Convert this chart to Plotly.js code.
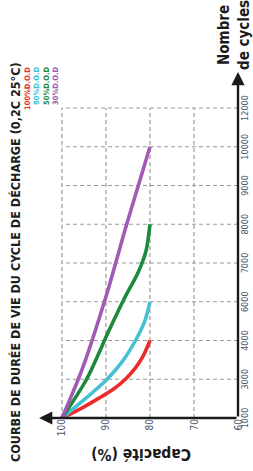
<!DOCTYPE html>
<html>
<head>
<meta charset="utf-8">
<script src="https://cdn.plot.ly/plotly-3.0.1.min.js"></script>
<style>
  html, body { margin: 0; padding: 0; background: #fff; overflow: hidden; width: 253px; height: 471px; }
  #wrap { position: absolute; left: 0; top: 0; width: 471px; height: 253px;
          transform-origin: 0 0; transform: translate(0px, 471px) rotate(-90deg); }
</style>
</head>
<body>
<div id="wrap"><div id="chart" style="width:471px;height:253px;"></div></div>
<script>
// ---- data ----
const chartTitle = 'COURBE DE DURÉE DE VIE DU CYCLE DE DÉCHARGE (0,2C 25°C)';
const cycleTicks = [1000, 3000, 4000, 6000, 7000, 8000, 9000, 10000, 12000];
const capacityTicks = [100, 90, 80, 70, 60];
const seriesNames = ['100%D.O.D', '80%D.O.D', '50%D.O.D', '30%D.O.D'];
const seriesColors = ['#ee2b2b', '#45c1d3', '#1b8a3c', '#a05bb5'];

const dod100Cycles = [1000, 1537, 2024, 2512, 3000, 3294, 3588, 4000];
const dod100Cap    = [100, 95.3, 91.6, 88.2, 85.6, 83.3, 81.6, 80];
const dod80Cycles  = [1000, 1878, 2950, 3441, 4000, 5053, 6000];
const dod80Cap     = [100, 95.3, 90, 86.4, 83.3, 81.1, 80];
const dod50Cycles  = [1000, 3000, 4526, 6135, 6757, 7314, 8000];
const dod50Cap     = [100, 94.4, 89.3, 85.6, 82.7, 80.9, 80];
const dod30Cycles  = [1000, 3294, 6135, 8000, 10000];
const dod30Cap     = [100, 95.3, 90, 85.3, 80];

// The cycle axis of the reference has evenly spaced, unevenly valued labels:
// map a cycle count onto that piecewise scale.
function cyclePos(c) {
  for (let i = 0; i < cycleTicks.length - 1; i++) {
    if (c <= cycleTicks[i + 1]) return i + (c - cycleTicks[i]) / (cycleTicks[i + 1] - cycleTicks[i]);
  }
  return cycleTicks.length - 1;
}

const allCycles = [dod100Cycles, dod80Cycles, dod50Cycles, dod30Cycles];
const allCap = [dod100Cap, dod80Cap, dod50Cap, dod30Cap];

const traces = allCycles.map((cyc, k) => ({
  type: 'scatter', mode: 'lines', name: seriesNames[k],
  x: cyc.map(cyclePos), y: allCap[k],
  line: { color: seriesColors[k], width: 3.6, shape: 'spline', smoothing: 0.8 },
  hoverinfo: 'skip'
}));

const narrow = '"Liberation Sans Narrow", "DejaVu Sans Condensed", "Arial Narrow", sans-serif';
const tickColor = '#48536e';
const lastIdx = cycleTicks.length - 1;
const xMax = 8.955, yMin = 60, yMax = 105.45;

const shapes = [];
cycleTicks.forEach((t, i) => {
  if (i === 0) return;
  shapes.push({ type: 'line', xref: 'x', yref: 'y', x0: i, x1: i, y0: capacityTicks[capacityTicks.length - 1], y1: capacityTicks[0],
    line: { color: '#9a9a9a', width: 1.2, dash: '4px,3px' }, layer: 'below' });
});
capacityTicks.forEach((c, j) => {
  if (j === capacityTicks.length - 1) return;
  shapes.push({ type: 'line', xref: 'x', yref: 'y', x0: 0, x1: lastIdx, y0: c, y1: c,
    line: { color: '#9a9a9a', width: 1.2, dash: '4px,3px' }, layer: 'below' });
});

const annotations = [
  // axis arrows
  { xref: 'x', yref: 'y', axref: 'x', ayref: 'y', x: 8.93, y: yMin, ax: 0, ay: yMin, text: '',
    showarrow: true, arrowhead: 2, arrowsize: 1.1, arrowwidth: 2.4, arrowcolor: '#1a1a1a' },
  { xref: 'x', yref: 'y', axref: 'x', ayref: 'y', x: 0, y: 105.2, ax: 0, ay: yMin, text: '',
    showarrow: true, arrowhead: 2, arrowsize: 1.1, arrowwidth: 2.4, arrowcolor: '#1a1a1a' },
  // axis titles
  { xref: 'paper', yref: 'paper', x: (17 - 53) / 347, y: (238 - 141) / 200, text: 'Capacité (%)',
    textangle: -90, showarrow: false, xanchor: 'center', yanchor: 'middle',
    font: { family: narrow, size: 15.5, color: '#1a1a1a', weight: 'bold' } },
  { xref: 'paper', yref: 'paper', x: (436 - 53) / 347, y: (238 - 234) / 200, text: 'Nombre<br>de cycles',
    showarrow: false, xanchor: 'center', yanchor: 'middle', align: 'center',
    font: { family: narrow, size: 15, color: '#1a1a1a', weight: 'bold' } }
];
// colour-coded legend text
const legendV = [27, 36, 46, 56];
seriesNames.forEach((n, k) => {
  annotations.push({ xref: 'paper', yref: 'paper', x: (406 - 53) / 347, y: (238 - legendV[k]) / 200,
    text: n, showarrow: false, xanchor: 'right', yanchor: 'middle',
    font: { family: narrow, size: 7.5, color: seriesColors[k], weight: 'bold' } });
});

const layout = {
  width: 471, height: 253,
  margin: { l: 53, r: 71, t: 38, b: 15 },
  paper_bgcolor: '#ffffff', plot_bgcolor: '#ffffff',
  showlegend: false,
  title: { text: chartTitle, xref: 'container', yref: 'container', x: 9 / 471, xanchor: 'left',
           y: 1 - 16 / 253, yanchor: 'middle',
           font: { family: narrow, size: 12.5, color: '#1e1e1e', weight: 'bold' } },
  xaxis: { range: [0, xMax], tickmode: 'array', tickvals: cycleTicks.map((t, i) => i),
           ticktext: cycleTicks.map(String), showgrid: false, zeroline: false, showline: false,
           ticks: '', tickfont: { family: narrow, size: 9, color: tickColor }, fixedrange: true },
  yaxis: { range: [yMin, yMax], tickmode: 'array', tickvals: capacityTicks,
           ticktext: capacityTicks.map(String), showgrid: false, zeroline: false, showline: false,
           ticks: '', tickfont: { family: narrow, size: 10, color: tickColor }, fixedrange: true },
  shapes: shapes,
  annotations: annotations
};

Plotly.newPlot('chart', traces, layout, { displayModeBar: false, staticPlot: true });
</script>
</body>
</html>
